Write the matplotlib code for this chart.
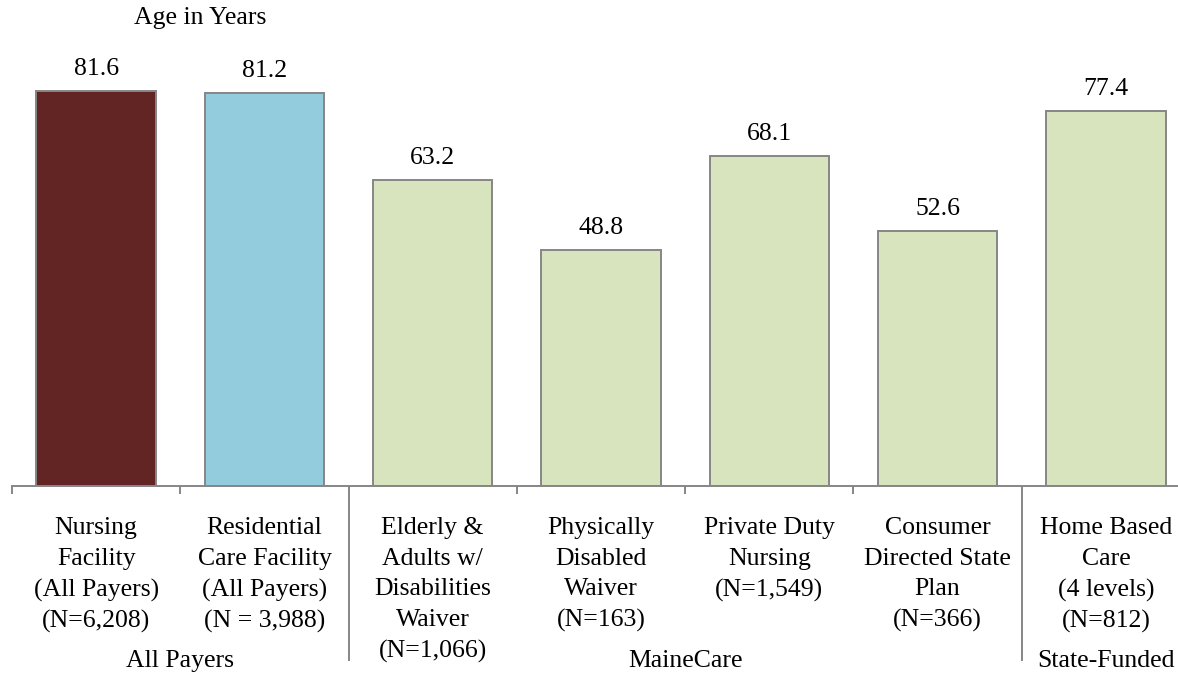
import matplotlib
matplotlib.use("Agg")
import matplotlib.pyplot as plt

# average age by program
programs = [
    "Nursing\nFacility\n(All Payers)\n(N=6,208)",
    "Residential\nCare Facility\n(All Payers)\n(N = 3,988)",
    "Elderly &\nAdults w/\nDisabilities\nWaiver\n(N=1,066)",
    "Physically\nDisabled\nWaiver\n(N=163)",
    "Private Duty\nNursing\n(N=1,549)",
    "Consumer\nDirected State\nPlan\n(N=366)",
    "Home Based\nCare\n(4 levels)\n(N=812)",
]
ages = [81.6, 81.2, 63.2, 48.8, 68.1, 52.6, 77.4]
colors = ["#632523", "#93CDDD", "#D7E4BD", "#D7E4BD", "#D7E4BD", "#D7E4BD", "#D7E4BD"]

groups = ["All Payers", "MaineCare", "State-Funded"]
group_centers = [0.5, 3.5, 6.0]
group_breaks = [1.5, 5.5]

plt.rcParams["font.family"] = ["Liberation Serif", "DejaVu Serif"]
FS = 18.5
GREY = "#868686"

fig = plt.figure(figsize=(11.78, 6.73), dpi=100)
ax = fig.add_axes([12 / 1178, 187 / 673, 1178.1 / 1178, 486 / 673])

x = range(len(ages))
bars = ax.bar(x, ages, width=0.71, color=colors, edgecolor=GREY, linewidth=1.4)

for xi, v in zip(x, ages):
    ax.annotate(f"{v:.1f}", (xi, v), xytext=(0, 16), textcoords="offset points",
                ha="center", va="center", fontsize=FS)

ax.set_xlim(-0.5, 6.5)
ax.set_ylim(0, 100.4)

for s in ["top", "right", "left"]:
    ax.spines[s].set_visible(False)
ax.spines["bottom"].set_color(GREY)
ax.spines["bottom"].set_linewidth(1.4)
ax.set_yticks([])

# short ticks between categories, long ones between payer groups
ax.set_xticks([-0.5, 0.5, 2.5, 3.5, 4.5])
ax.set_xticks(group_breaks, minor=True)
ax.tick_params(axis="x", which="major", length=6, width=1.4, color=GREY, labelbottom=False)
ax.tick_params(axis="x", which="minor", length=126, width=1.4, color=GREY, labelbottom=False)

for xi, lab in zip(x, programs):
    ax.text(xi, -0.064, lab, transform=ax.get_xaxis_transform(), ha="center", va="top",
            fontsize=FS, linespacing=1.5)

for gx, g in zip(group_centers, groups):
    ax.text(gx, -0.36, g, transform=ax.get_xaxis_transform(), ha="center", va="center",
            fontsize=FS, clip_on=False)

fig.text(200 / 1178, 1 - 18 / 673, "Age in Years", ha="center", va="center", fontsize=FS)

fig.savefig("out.png", dpi=100)
